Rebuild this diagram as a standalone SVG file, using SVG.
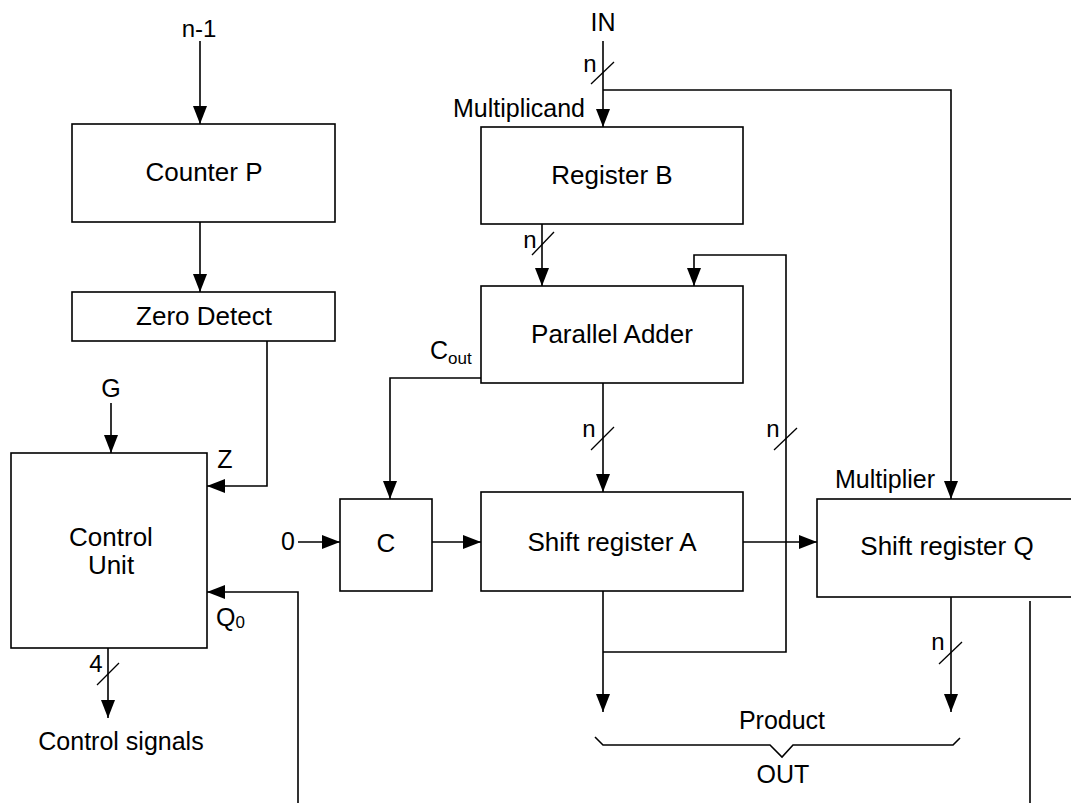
<svg xmlns="http://www.w3.org/2000/svg" width="1071" height="803" viewBox="0 0 1071 803">
<defs>
<marker id="ah" viewBox="0 0 18 14" refX="18" refY="7" markerWidth="18" markerHeight="14" markerUnits="userSpaceOnUse" orient="auto">
<path d="M0,0 L18,7 L0,14 Z" fill="#000"/>
</marker>
<style>
.box{fill:#fff;stroke:#000;stroke-width:1.6}
.w{fill:none;stroke:#000;stroke-width:1.6}
.a{fill:none;stroke:#000;stroke-width:1.6;marker-end:url(#ah)}
.s{fill:none;stroke:#000;stroke-width:1.3}
text{font-family:"Liberation Sans",Arial,sans-serif;fill:#000}
.t{font-size:26px;text-anchor:middle}
.l{font-size:25px}
.n{font-size:24px}
.c{text-anchor:middle}
.r{text-anchor:end}
</style>
</defs>
<rect width="1071" height="803" fill="#fff"/>
<g id="connectors">
<path class="a" d="M200,41 V124"/>
<path class="a" d="M200,222 V292"/>
<path class="a" d="M267,341 V486 H207"/>
<path class="a" d="M111,403 V453"/>
<path class="a" d="M298,803 V592 H207"/>
<path class="a" d="M108,648 V718"/>
<path class="s" d="M97,685 L119,663"/>
<path class="a" d="M603,41 V127"/>
<path class="s" d="M591,84 L614,62"/>
<path class="a" d="M603,90 H951 V499"/>
<path class="a" d="M542,224 V286"/>
<path class="s" d="M532,255 L554,232"/>
<path class="a" d="M603,652 H786 V255 H694 V286"/>
<path class="s" d="M774,450 L797,428"/>
<path class="a" d="M481,378 H390 V499"/>
<path class="a" d="M603,383 V492"/>
<path class="s" d="M591,450 L614,427"/>
<path class="a" d="M298,542 H340"/>
<path class="a" d="M432,542 H481"/>
<path class="a" d="M743,542 H817"/>
<path class="a" d="M603,591 V712"/>
<path class="a" d="M951,597 V712"/>
<path class="s" d="M939,664 L962,642"/>
<path class="w" d="M1030,601 V803"/>
<path class="w" d="M595,737 L603,745 H770 L782,757 L793,745 H953 L960,738"/>
</g>
<g id="counterP"><rect class="box" x="72" y="124" width="263" height="98"/><text class="t" x="204" y="181">Counter P</text></g>
<g id="zeroDetect"><rect class="box" x="72" y="292" width="263" height="49"/><text class="t" x="204" y="325">Zero Detect</text></g>
<g id="controlUnit"><rect class="box" x="11" y="453" width="196" height="195"/><text class="t" x="111" y="546">Control</text><text class="t" x="111" y="574">Unit</text></g>
<g id="registerB"><rect class="box" x="481" y="127" width="262" height="97"/><text class="t" x="612" y="184">Register B</text></g>
<g id="parallelAdder"><rect class="box" x="481" y="286" width="262" height="97"/><text class="t" x="612" y="343">Parallel Adder</text></g>
<g id="C"><rect class="box" x="340" y="499" width="92" height="92"/><text class="t" x="386" y="552">C</text></g>
<g id="shiftA"><rect class="box" x="481" y="492" width="262" height="99"/><text class="t" x="612" y="551">Shift register A</text></g>
<g id="shiftQ"><rect class="box" x="817" y="499" width="262" height="98"/><text class="t" x="947" y="555">Shift register Q</text></g>
<g id="labels">
<text class="n c" x="199" y="37">n-1</text>
<text class="l c" x="603" y="31">IN</text>
<text class="l r" x="585" y="117">Multiplicand</text>
<text class="l r" x="935" y="488">Multiplier</text>
<text class="l c" x="111" y="397">G</text>
<text class="l c" x="225" y="468">Z</text>
<text class="l" x="216" y="626">Q<tspan font-size="17" dy="2">0</tspan></text>
<text class="l c" x="288" y="550">0</text>
<text class="l" x="430" y="359">C<tspan font-size="17" dy="5">out</tspan></text>
<text class="n c" x="590" y="72">n</text>
<text class="n c" x="530" y="248">n</text>
<text class="n c" x="589" y="437">n</text>
<text class="n c" x="773" y="437">n</text>
<text class="n c" x="938" y="650">n</text>
<text class="n c" x="96" y="672">4</text>
<text class="l c" x="121" y="750">Control signals</text>
<text class="l c" x="782" y="729">Product</text>
<text class="l c" x="783" y="783">OUT</text>
</g>
</svg>
